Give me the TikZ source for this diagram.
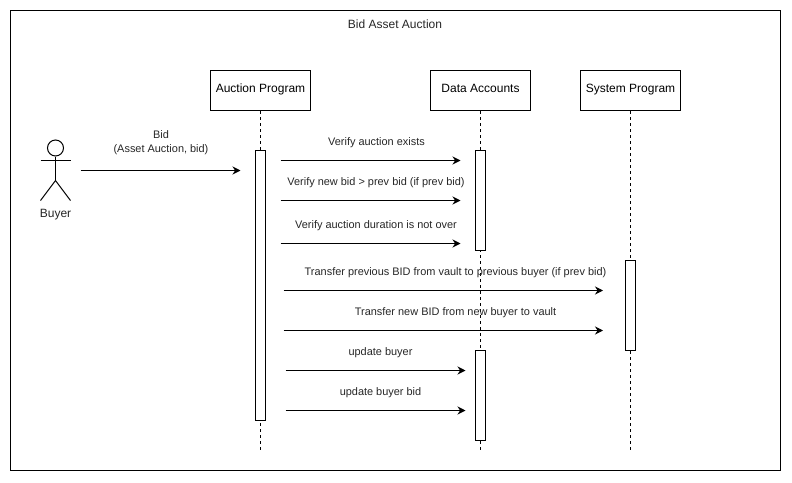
\documentclass[tikz,border=0pt]{standalone}
\usepackage{fontspec}
\setmainfont{Liberation Sans}
\usetikzlibrary{positioning, arrows.meta}

\tikzset{
  party/.style={draw, line width=0.75pt, fill=white, minimum width=75pt, minimum height=30pt, inner sep=0pt, text height=6.6pt, text depth=3.2pt, font=\fontsize{9}{11}\selectfont},
  lifeline/.style={line width=0.75pt, dash pattern=on 2.25pt off 2.25pt},
  activation/.style={draw, line width=0.75pt, fill=white, minimum width=7.5pt, inner sep=0pt},
  message/.style={line width=0.75pt, -{Stealth[length=6pt, width=6pt]}},
  msglabel/.style={inner sep=0pt, align=center, font=\fontsize{8.2}{10.5}\selectfont, text=black!85},
}

\begin{document}
\begin{tikzpicture}[x=0.75pt, y=-0.75pt]
\useasboundingbox (0,0) rectangle (792,482);

% outer frame
\node[draw, line width=0.75pt, minimum width=577.5pt, minimum height=345pt, inner sep=0pt] (frame) at (395.5,240.5) {};
\node[msglabel, font=\fontsize{9}{11}\selectfont] (title) at (395,24) {Bid Asset Auction};

% participants
\node[party] (auction) at (260.5,90.5) {Auction Program};
\node[party] (data) at (480.5,90.5) {Data Accounts};
\node[party] (system) at (630.5,90.5) {System Program};

% lifelines
\coordinate (auctionend) at (260.5,450);
\coordinate (dataend) at (480.5,450);
\coordinate (systemend) at (630.5,450);
\draw[lifeline] (auction.south) -- (auctionend);
\draw[lifeline] (data.south) -- (dataend);
\draw[lifeline] (system.south) -- (systemend);

% activation bars
\node[activation, minimum height=202.5pt] (auctionbar) at (260.5,285.5) {};
\node[activation, minimum height=75pt] (databar) at (480.5,200.5) {};
\node[activation, minimum height=67.5pt] (systembar) at (630.5,305.5) {};
\node[activation, minimum height=67.5pt] (databartwo) at (480.5,395.5) {};

% actor: stick figure
\node[draw, circle, line width=0.75pt, minimum size=12pt, inner sep=0pt] (head) at (55.5,148) {};
\coordinate (hip) at (55.5,180.5);
\draw[line width=0.75pt] (head.south) -- (hip);
\draw[line width=0.75pt] (40.5,160.5) -- (70.5,160.5);
\draw[line width=0.75pt] (40.5,200.5) -- (hip) -- (70.5,200.5);
\node[msglabel, font=\fontsize{9}{11}\selectfont] (buyer) at (55.5,215) {Buyer};

% bid from buyer
\coordinate (bidstart) at (80.5,170.5);
\coordinate (bidend) at (240.5,170.5);
\draw[message] (bidstart) -- (bidend);
\node[msglabel] (bid) at (161,143) {Bid\\(Asset Auction, bid)};

% verify messages
\coordinate (existsstart) at (280.5,160.5);
\coordinate (existsend) at (460.5,160.5);
\draw[message] (existsstart) -- (existsend);
\node[msglabel] (exists) at (376.5,143) {Verify auction exists};

\coordinate (newbidstart) at (280.5,200.5);
\coordinate (newbidend) at (460.5,200.5);
\draw[message] (newbidstart) -- (newbidend);
\node[msglabel] (newbid) at (376,183) {Verify new bid > prev bid (if prev bid)};

\coordinate (durationstart) at (280.5,243.5);
\coordinate (durationend) at (460.5,243.5);
\draw[message] (durationstart) -- (durationend);
\node[msglabel] (duration) at (376,226) {Verify auction duration is not over};

% transfers
\coordinate (prevstart) at (283.5,290.5);
\coordinate (prevend) at (603,290.5);
\draw[message] (prevstart) -- (prevend);
\node[msglabel] (prev) at (455.5,273) {Transfer previous BID from vault to previous buyer (if prev bid)};

\coordinate (newstart) at (283.5,330.5);
\coordinate (newend) at (603,330.5);
\draw[message] (newstart) -- (newend);
\node[msglabel] (new) at (455.5,313) {Transfer new BID from new buyer to vault};

% updates
\coordinate (updatestart) at (285.5,370.5);
\coordinate (updateend) at (465.5,370.5);
\draw[message] (updatestart) -- (updateend);
\node[msglabel] (update) at (380.5,353) {update buyer};

\coordinate (updbidstart) at (285.5,410.5);
\coordinate (updbidend) at (465.5,410.5);
\draw[message] (updbidstart) -- (updbidend);
\node[msglabel] (updbid) at (380.5,393) {update buyer bid};
\end{tikzpicture}
\end{document}
